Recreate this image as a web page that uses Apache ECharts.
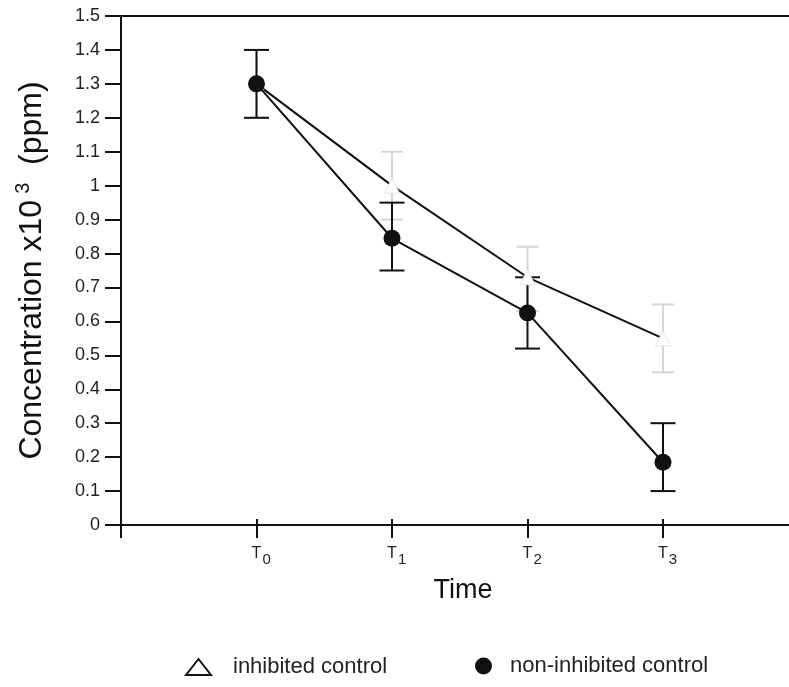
<!DOCTYPE html>
<html>
<head>
<meta charset="utf-8">
<script src="https://cdn.jsdelivr.net/npm/echarts@6/dist/echarts.min.js"></script>
<style>html,body{margin:0;padding:0;background:#fff;}#c{width:789px;height:687px;}</style>
</head>
<body>
<div id="c"></div>
<script>
// ---- data ----
const timePoints = [0, 1, 2, 3];
const tickMain = 'T';
const tickSub = ['0', '1', '2', '3'];
const inhibitedMean = [1.30, 1.00, 0.73, 0.55];
const inhibitedLow  = [1.20, 0.90, 0.63, 0.45];
const inhibitedHigh = [1.40, 1.10, 0.82, 0.65];
const nonInhibitedMean = [1.30, 0.845, 0.625, 0.185];
const nonInhibitedLow  = [1.20, 0.75, 0.52, 0.10];
const nonInhibitedHigh = [1.40, 0.95, 0.73, 0.30];
const seriesNames = ['inhibited control', 'non-inhibited control'];

const FONT = 'Liberation Sans, Arial, sans-serif';
const X_MIN = -1, X_MAX = 3.93;

function pairs(xs, ys) { return xs.map((x, i) => [x, ys[i]]); }
function errData(xs, lo, hi) { return xs.map((x, i) => [x, lo[i], hi[i]]); }

function errRender(color, capW) {
  return function (params, api) {
    const x = api.value(0);
    const p1 = api.coord([x, api.value(1)]);
    const p2 = api.coord([x, api.value(2)]);
    const st = { stroke: color, lineWidth: 2 };
    return {
      type: 'group',
      children: [
        { type: 'line', shape: { x1: p1[0], y1: p1[1], x2: p2[0], y2: p2[1] }, style: st },
        { type: 'line', shape: { x1: p1[0] - capW / 2, y1: p1[1], x2: p1[0] + capW / 2, y2: p1[1] }, style: st },
        { type: 'line', shape: { x1: p2[0] - capW / 2, y1: p2[1], x2: p2[0] + capW / 2, y2: p2[1] }, style: st }
      ]
    };
  };
}

const chart = echarts.init(document.getElementById('c'), null, { renderer: 'canvas' });
chart.setOption({
  backgroundColor: '#fff',
  animation: false,
  textStyle: { fontFamily: FONT },
  grid: { left: 121, right: 0, top: 16, bottom: 162, containLabel: false },
  legend: [{
    left: 180, top: 651,
    itemWidth: 25, itemHeight: 16,
    textStyle: { fontFamily: FONT, fontSize: 22, color: '#222', padding: [0, 0, 0, 17] },
    data: [
      { name: seriesNames[0], icon: 'triangle', itemStyle: { color: '#fff', borderColor: '#111', borderWidth: 2 } }
    ]
  }, {
    left: 470, top: 650,
    itemWidth: 17, itemHeight: 17,
    textStyle: { fontFamily: FONT, fontSize: 22, color: '#222', padding: [0, 0, 0, 13] },
    data: [
      { name: seriesNames[1], icon: 'circle', itemStyle: { color: '#111', borderWidth: 0 } }
    ]
  }],
  xAxis: [{
    type: 'value', min: X_MIN, max: X_MAX,
    position: 'bottom',
    name: 'Time', nameLocation: 'middle', nameGap: 52,
    nameTextStyle: { fontFamily: FONT, fontSize: 27, color: '#111', padding: [0, 0, 0, 16] },
    axisLine: { show: true, onZero: false, lineStyle: { color: '#111', width: 2 } },
    axisTick: { show: true, customValues: [X_MIN].concat(timePoints), length: 13, inside: false, lineStyle: { color: '#111', width: 2 } },
    axisLabel: {
      customValues: timePoints, margin: 15,
      formatter: function (v) { const i = timePoints.indexOf(v); return i < 0 ? '' : '{p|' + tickSub[i] + '}{t|' + tickMain + '}{s|' + tickSub[i] + '}'; },
      rich: {
        p: { fontFamily: FONT, fontSize: 15, color: 'rgba(0,0,0,0)', padding: [12, 1, 0, 0] },
        t: { fontFamily: FONT, fontSize: 16, color: '#222' },
        s: { fontFamily: FONT, fontSize: 15, color: '#222', padding: [12, 0, 0, 1] }
      }
    },
    splitLine: { show: false }
  }, {
    type: 'value', min: X_MIN, max: X_MAX, position: 'bottom',
    axisLine: { show: false, onZero: false },
    axisTick: { show: true, customValues: timePoints, length: 6, inside: true, lineStyle: { color: '#111', width: 2 } },
    axisLabel: { show: false }, splitLine: { show: false }
  }, {
    type: 'value', min: X_MIN, max: X_MAX, position: 'top',
    axisLine: { show: true, onZero: false, lineStyle: { color: '#111', width: 2 } },
    axisTick: { show: false }, axisLabel: { show: false }, splitLine: { show: false }
  }],
  yAxis: {
    type: 'value', min: 0, max: 1.5, interval: 0.1,
    name: 'Concentration x10{sup|3}  (ppm)',
    nameLocation: 'middle', nameGap: 70, nameRotate: 90,
    nameTextStyle: {
      fontFamily: FONT, fontSize: 32, color: '#111',
      rich: { sup: { fontFamily: FONT, fontSize: 20, color: '#111', padding: [0, 0, 18, 6] } }
    },
    axisLine: { show: true, onZero: false, lineStyle: { color: '#111', width: 2 } },
    axisTick: { show: true, length: 16, lineStyle: { color: '#111', width: 2 } },
    axisLabel: { fontFamily: FONT, fontSize: 18, color: '#222', margin: 21 },
    splitLine: { show: false }
  },
  series: [
    {
      type: 'custom', name: 'errInhibited', silent: true, z: 2,
      renderItem: errRender('#d6d6d6', 22),
      encode: { x: 0, y: [1, 2] },
      data: errData(timePoints, inhibitedLow, inhibitedHigh)
    },
    {
      type: 'custom', name: 'errNonInhibited', silent: true, z: 3,
      renderItem: errRender('#111', 25),
      encode: { x: 0, y: [1, 2] },
      data: errData(timePoints, nonInhibitedLow, nonInhibitedHigh)
    },
    {
      type: 'line', name: seriesNames[0], z: 4,
      data: pairs(timePoints, inhibitedMean),
      symbol: 'triangle', symbolSize: 15,
      lineStyle: { color: '#111', width: 2 },
      itemStyle: { color: '#fff', borderColor: '#e4e4e4', borderWidth: 1 }
    },
    {
      type: 'line', name: seriesNames[1], z: 5,
      data: pairs(timePoints, nonInhibitedMean),
      symbol: 'circle', symbolSize: 17,
      lineStyle: { color: '#111', width: 2 },
      itemStyle: { color: '#111' }
    }
  ]
});
</script>
</body>
</html>
